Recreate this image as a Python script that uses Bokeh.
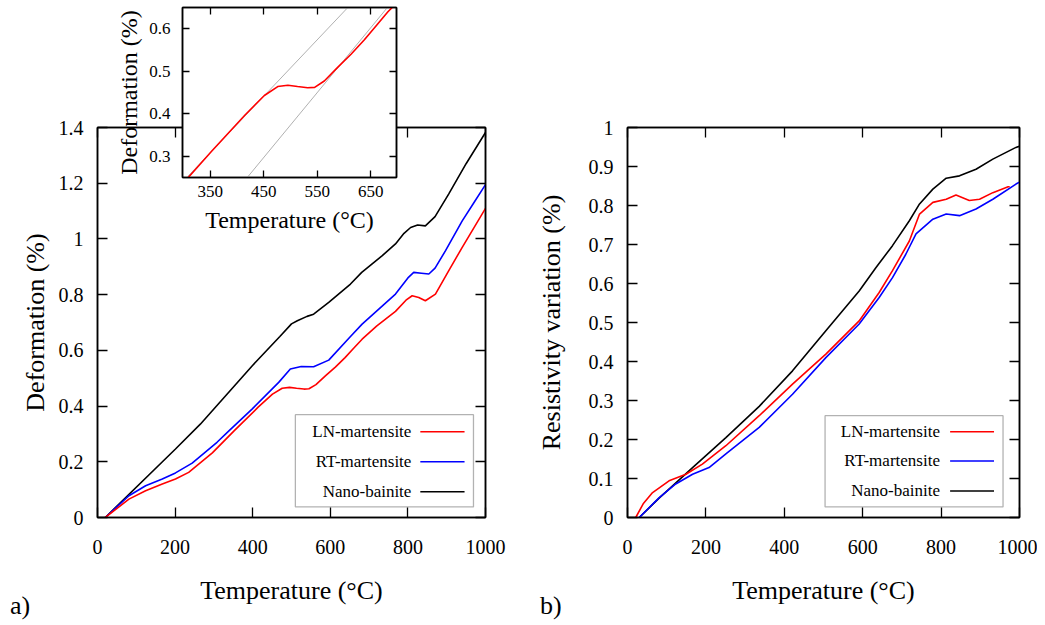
from bokeh.plotting import figure
from bokeh.models import (LinearAxis, FixedTicker, CustomJSTickFormatter, Range1d,
                          BoxAnnotation, Label, Arrow, Div)
from bokeh.embed import file_html
from bokeh.resources import INLINE

FONT = "Liberation Serif"

# ---------------- data: a) deformation ----------------
ln_def_T = [20, 81, 124, 167, 201, 235, 296, 352, 414, 451, 476, 495, 513, 532, 545, 563,
            588, 613, 638, 662, 682, 720, 768, 795, 811, 828, 845, 871, 905, 940, 970, 1000]
ln_def = [0, 0.066, 0.096, 0.12, 0.138, 0.162, 0.232, 0.311, 0.396, 0.443, 0.464, 0.467, 0.464,
          0.461, 0.462, 0.477, 0.509, 0.540, 0.574, 0.610, 0.640, 0.688, 0.740, 0.780, 0.796,
          0.790, 0.778, 0.802, 0.885, 0.970, 1.040, 1.110]

rt_def_T = [20, 81, 124, 167, 201, 244, 308, 338, 399, 467, 497, 525, 557, 596, 652, 682, 768,
            800, 815, 835, 854, 870, 897, 940, 970, 1000]
rt_def = [0, 0.078, 0.114, 0.138, 0.160, 0.195, 0.270, 0.310, 0.390, 0.485, 0.533, 0.542, 0.541,
          0.565, 0.650, 0.694, 0.802, 0.860, 0.880, 0.877, 0.874, 0.895, 0.958, 1.065, 1.130, 1.195]

nb_def_T = [20, 201, 265, 399, 470, 500, 515, 540, 557, 596, 652, 681, 734, 768, 790, 807, 825,
            845, 870, 905, 950, 1000]
nb_def = [0, 0.246, 0.335, 0.545, 0.650, 0.695, 0.706, 0.722, 0.730, 0.772, 0.838, 0.880, 0.940,
          0.982, 1.020, 1.041, 1.050, 1.047, 1.080, 1.161, 1.270, 1.382]

# inset tangent lines
tan_a_T = [306, 607]
tan_a_D = [0.25, 0.65]
tan_b_T = [419, 681]
tan_b_D = [0.25, 0.65]

# ---------------- data: b) resistivity ----------------
ln_res_T = [21, 40, 64, 106, 149, 191, 251, 336, 421, 506, 591, 642, 676, 719, 745, 779, 813,
            838, 855, 872, 898, 932, 971, 975]
ln_res = [0, 0.035, 0.064, 0.094, 0.111, 0.137, 0.184, 0.261, 0.342, 0.419, 0.504, 0.577, 0.633,
          0.709, 0.778, 0.808, 0.816, 0.827, 0.820, 0.813, 0.816, 0.833, 0.848, 0.848]

rt_res_T = [30, 81, 123, 166, 208, 251, 336, 421, 506, 591, 642, 676, 710, 736, 779, 813, 847,
            889, 932, 991, 1000]
rt_res = [0, 0.051, 0.086, 0.111, 0.128, 0.163, 0.231, 0.316, 0.410, 0.496, 0.564, 0.615, 0.675,
          0.727, 0.765, 0.778, 0.774, 0.791, 0.816, 0.855, 0.860]

nb_res_T = [30, 80, 166, 251, 336, 421, 506, 591, 634, 676, 719, 745, 779, 813, 847, 889, 932,
            991, 1000]
nb_res = [0, 0.049, 0.128, 0.205, 0.285, 0.376, 0.479, 0.581, 0.641, 0.697, 0.761, 0.804, 0.842,
          0.870, 0.876, 0.893, 0.919, 0.949, 0.952]

# ---------------- ticks / labels ----------------
x_ticks = [0, 200, 400, 600, 800, 1000]
def_ticks = [0, 0.2, 0.4, 0.6, 0.8, 1.0, 1.2, 1.4]
res_ticks = [0, 0.1, 0.2, 0.3, 0.4, 0.5, 0.6, 0.7, 0.8, 0.9, 1.0]
inset_x_ticks = [350, 450, 550, 650]
inset_y_ticks = [0.3, 0.4, 0.5, 0.6]
series_names = ["LN-martensite", "RT-martensite", "Nano-bainite"]
series_colors = ["#ff0000", "#0000ff", "#000000"]
x_label = "Temperature (°C)"
panel_tags = ["a)", "b)"]

NUM_FMT = "return Number(tick.toFixed(3)).toString();"


def place(left, top):
    return {"position": "absolute", "left": f"{left}px", "top": f"{top}px"}


def style_axis(ax, ticks, tick_len, size, show_labels=True, standoff=10):
    ax.ticker = FixedTicker(ticks=ticks)
    ax.formatter = CustomJSTickFormatter(code=NUM_FMT if show_labels else "return '';")
    ax.major_tick_in = tick_len
    ax.major_tick_out = 0
    ax.minor_tick_line_color = None
    ax.axis_line_color = "black"
    ax.axis_line_width = 1.5
    ax.major_tick_line_color = "black"
    ax.major_tick_line_width = 1.3
    ax.major_label_text_font = FONT
    ax.major_label_text_font_size = size
    ax.major_label_text_color = "black"
    ax.major_label_standoff = standoff if show_labels else 0
    ax.axis_label_text_font = FONT
    ax.axis_label_text_font_style = "normal"
    ax.axis_label_text_color = "black"


def make_panel(width, height, borders, yr, yticks, ylabel, pos, tick_len=10, tick_size="20px",
               label_size="26px", xr=(0, 1000), xticks=x_ticks, x_std=(22, 19), y_std=(14, 8),
               xlab=x_label):
    l, r, t, b = borders
    p = figure(width=width, height=height, x_range=Range1d(*xr), y_range=Range1d(*yr),
               output_backend="svg", toolbar_location=None,
               min_border_left=l, min_border_right=r, min_border_top=t, min_border_bottom=b,
               styles=place(*pos))
    p.xgrid.grid_line_color = None
    p.ygrid.grid_line_color = None
    p.outline_line_color = "black"
    p.outline_line_width = 1.5
    style_axis(p.xaxis[0], xticks, tick_len, tick_size, True, x_std[0])
    style_axis(p.yaxis[0], yticks, tick_len, tick_size, True, y_std[0])
    p.xaxis.axis_label = xlab
    p.yaxis.axis_label = ylabel
    p.xaxis.axis_label_text_font_size = label_size
    p.yaxis.axis_label_text_font_size = label_size
    p.xaxis.axis_label_standoff = x_std[1]
    p.yaxis.axis_label_standoff = y_std[1]
    top = LinearAxis()
    style_axis(top, xticks, tick_len, "1px", False)
    p.add_layout(top, "above")
    right = LinearAxis()
    style_axis(right, yticks, tick_len, "1px", False)
    p.add_layout(right, "right")
    return p


def add_legend(p, box, text_x, s0, s1, rows):
    p.add_layout(BoxAnnotation(left=box[0], right=box[1], bottom=box[2], top=box[3],
                               fill_color="white", fill_alpha=1.0,
                               line_color="black", line_width=1.3))
    for y, name, c in zip(rows, series_names, series_colors):
        p.add_layout(Label(x=text_x, y=y, text=name, text_align="right",
                           text_baseline="middle", text_font=FONT,
                           text_font_size="17px", text_color="black"))
        p.add_layout(Arrow(start=None, end=None, x_start=s0, y_start=y, x_end=s1, y_end=y,
                           line_color=c, line_width=1.5))


# ---------------- panel a ----------------
pa = make_panel(522, 609, (89, 45, 119, 100), (0, 1.4), def_ticks, "Deformation (%)", (8, 8),
                y_std=(14, 6))
pa.line(nb_def_T, nb_def, line_color=series_colors[2], line_width=1.6)
pa.line(rt_def_T, rt_def, line_color=series_colors[1], line_width=1.6)
pa.line(ln_def_T, ln_def, line_color=series_colors[0], line_width=1.6)
add_legend(pa, (510, 969, 0.038, 0.369), 809, 832, 946, [0.308, 0.200, 0.092])

# ---------------- panel b ----------------
pb = make_panel(507, 609, (97, 18, 119, 100), (0, 1.0), res_ticks, "Resistivity variation (%)",
                (530, 8), y_std=(14, 20))
pb.line(nb_res_T, nb_res, line_color=series_colors[2], line_width=1.6)
pb.line(rt_res_T, rt_res, line_color=series_colors[1], line_width=1.6)
pb.line(ln_res_T, ln_res, line_color=series_colors[0], line_width=1.6)
add_legend(pb, (504, 958, 0.027, 0.261), 797, 823, 935, [0.220, 0.145, 0.068])

# ---------------- inset (drawn on top of panel a) ----------------
pi = make_panel(290, 234, (68, 7, 1, 63), (0.25, 0.65), inset_y_ticks, "Deformation (%)",
                (113, 6), tick_len=7, tick_size="17px", label_size="24px", xr=(298, 698),
                xticks=inset_x_ticks, x_std=(8, 7), y_std=(12, 4))
pi.border_fill_alpha = 0
pi.background_fill_color = "white"
pi.styles = dict(place(113, 6), **{"z-index": "5"})
pi.line(tan_a_T, tan_a_D, line_color="#b0b0b0", line_width=1)
pi.line(tan_b_T, tan_b_D, line_color="#b0b0b0", line_width=1)
pi.line(ln_def_T, ln_def, line_color=series_colors[0], line_width=1.6)

# ---------------- panel tags ----------------
tag_style = {"font-family": FONT, "font-size": "26px", "color": "black", "line-height": "30px"}
ta = Div(text=panel_tags[0], width=40, height=30, margin=(0, 0, 0, 0),
         styles=dict(place(10, 591), **tag_style))
tb = Div(text=panel_tags[1], width=40, height=30, margin=(0, 0, 0, 0),
         styles=dict(place(540, 591), **tag_style))

open("out.html", "w").write(file_html([pa, pb, pi, ta, tb], INLINE))
